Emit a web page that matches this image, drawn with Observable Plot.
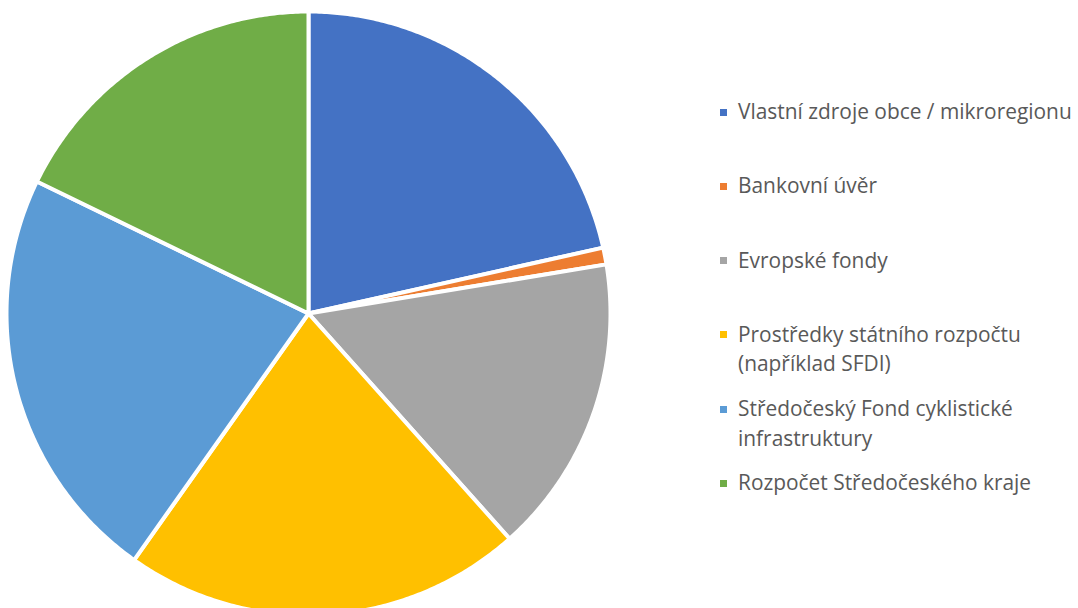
<!DOCTYPE html>
<html>
<head>
<meta charset="utf-8">
<script src="https://cdn.jsdelivr.net/npm/d3@7"></script>
<script src="https://cdn.jsdelivr.net/npm/@observablehq/plot@0.6"></script>
<style>
  html, body { margin: 0; padding: 0; background: #fff; }
  #wrap { position: relative; width: 1078px; height: 608px; overflow: hidden; }
  #legend { position: absolute; left: 0; top: 0; font-family: "Open Sans", sans-serif; font-size: 20.9px; color: #595959; }
  .item { position: absolute; left: 720px; display: flex; align-items: flex-start; white-space: nowrap; }
  .sw { width: 7px; height: 7px; margin-right: 11px; flex: none; }
  .lbl { line-height: 29.5px; }
</style>
</head>
<body>
<div id="wrap"><div id="legend"></div></div>
<script>
const categories = [
  "Vlastní zdroje obce / mikroregionu",
  "Bankovní úvěr",
  "Evropské fondy",
  "Prostředky státního rozpočtu (například SFDI)",
  "Středočeský Fond cyklistické infrastruktury",
  "Rozpočet Středočeského kraje"
];
const legendLines = [
  ["Vlastní zdroje obce / mikroregionu"],
  ["Bankovní úvěr"],
  ["Evropské fondy"],
  ["Prostředky státního rozpočtu", "(například SFDI)"],
  ["Středočeský Fond cyklistické", "infrastruktury"],
  ["Rozpočet Středočeského kraje"]
];
const values = [21.5, 0.9, 16.0, 21.4, 22.4, 17.8];
const colors = ["#4472C4", "#ED7D31", "#A5A5A5", "#FFC000", "#5B9BD5", "#70AD47"];

// Build slice outlines from the data with d3.pie
const arcs = d3.pie().sort(null).value(d => d.value)(categories.map((c, i) => ({category: c, value: values[i]})));
const R = 1;
const pts = [];
for (const a of arcs) {
  const c = a.data.category;
  pts.push({category: c, x: 0, y: 0});
  const n = Math.max(2, Math.ceil((a.endAngle - a.startAngle) / (Math.PI / 360)));
  for (let k = 0; k <= n; k++) {
    const t = a.startAngle + (a.endAngle - a.startAngle) * k / n;
    pts.push({category: c, x: R * Math.sin(t), y: R * Math.cos(t)});
  }
  pts.push({category: c, x: 0, y: 0});
}

const W = 1078, H = 608, cx = 308, cy = 313, rpx = 302;
const chart = Plot.plot({
  width: W, height: H,
  margin: 0,
  x: {domain: [-cx / rpx, (W - cx) / rpx], range: [0, W], axis: null},
  y: {domain: [-(H - cy) / rpx, cy / rpx], range: [H, 0], axis: null},
  color: {domain: categories, range: colors},
  marks: [
    Plot.line(pts, {x: "x", y: "y", z: "category", fill: "category", stroke: "white", strokeWidth: 4, strokeLinejoin: "round", curve: "linear"})
  ]
});
const wrap = document.getElementById("wrap");
wrap.insertBefore(chart, wrap.firstChild);

const legend = document.getElementById("legend");
legendLines.forEach((lines, i) => {
  const item = document.createElement("div");
  item.className = "item";
  item.style.top = (112 + i * 74.2 - 14.75) + "px";
  const sw = document.createElement("div");
  sw.className = "sw";
  sw.style.background = colors[i];
  sw.style.marginTop = "11.5px";
  const lbl = document.createElement("div");
  lbl.className = "lbl";
  lbl.innerHTML = lines.join("<br>");
  item.appendChild(sw);
  item.appendChild(lbl);
  legend.appendChild(item);
});
</script>
</body>
</html>
